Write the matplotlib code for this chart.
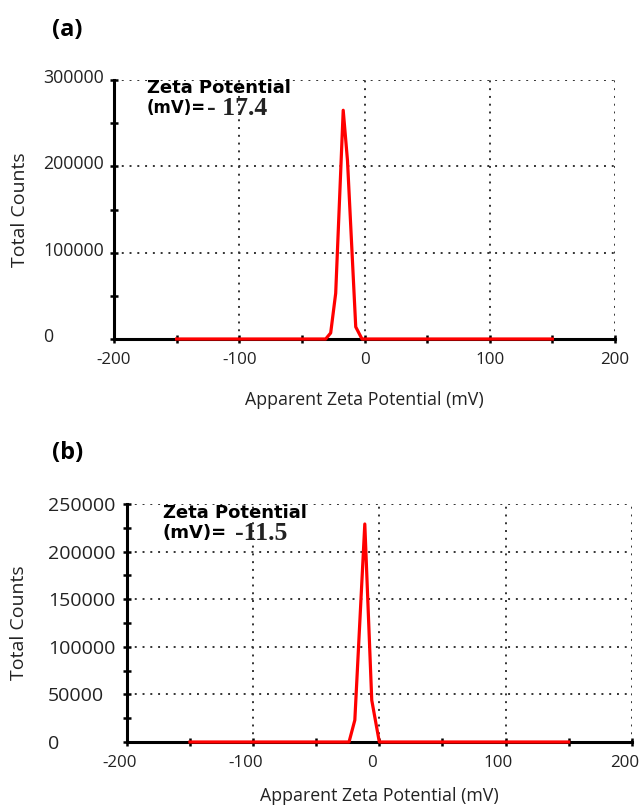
import matplotlib.pyplot as plt
from matplotlib.ticker import MultipleLocator
from matplotlib.transforms import ScaledTranslation

# Données
# (a)
x_a = [-150, -100, -50, -31, -27, -23, -17, -13.6, -7, -2, 0, 50, 100, 150]
y_a = [0, 0, 0, 0, 7000, 53000, 265000, 207000, 14000, 0, 0, 0, 0, 0]
zeta_a = "- 17.4"
# (b)
x_b = [-150, -100, -50, -24, -19.4, -11.5, -6, 0, 50, 100, 150]
y_b = [0, 0, 0, 0, 23000, 229000, 44000, 0, 0, 0, 0]
zeta_b = "-11.5"

xticks = [-200, -100, 0, 100, 200]
yticks_a = [0, 100000, 200000, 300000]
yticks_b = [0, 50000, 100000, 150000, 200000, 250000]

plt.rcParams['font.family'] = ['Open Sans', 'DejaVu Sans']
plt.rcParams['axes.unicode_minus'] = False

fig = plt.figure(figsize=(6.44, 8.06), dpi=100)
ax1 = fig.add_axes([0.177, 0.5794, 0.778, 0.3213])
ax2 = fig.add_axes([0.197, 0.0794, 0.784, 0.2953])


def shift(labels, dx, dy):
    for lbl in labels:
        lbl.set_transform(lbl.get_transform() +
                          ScaledTranslation(dx / 100, dy / 100, fig.dpi_scale_trans))


def style(ax, x, y, yticks, ymax, yminor, ysize, ypad, xlpad, ylx):
    ax.grid(True, color='#333333', linestyle=(0, (1, 3)), linewidth=1.4)
    ax.plot(x, y, color='red', linewidth=2.3, zorder=3, clip_on=False)
    ax.set_xlim(-200, 200)
    ax.set_ylim(0, ymax)
    ax.set_xticks(xticks)
    ax.set_yticks(yticks)
    ax.xaxis.set_minor_locator(MultipleLocator(50))
    ax.yaxis.set_minor_locator(MultipleLocator(yminor))
    for s in ['top', 'right']:
        ax.spines[s].set_visible(False)
    for s in ['left', 'bottom']:
        ax.spines[s].set_linewidth(2.2)
        ax.spines[s].set_zorder(2)
    ax.tick_params(which='both', direction='inout', length=6, width=1.8,
                   labelcolor='#222222')
    ax.tick_params(axis='x', pad=6, labelsize=12.2)
    ax.tick_params(axis='y', pad=ypad, labelsize=ysize)
    for lbl in ax.get_yticklabels():
        lbl.set_ha('left')
    ax.set_xlabel('Apparent Zeta Potential (mV)', fontsize=12.8,
                  labelpad=xlpad, color='#222222')
    ax.set_ylabel('Total Counts', fontsize=14, color='#222222')
    ax.yaxis.set_label_coords(ylx, 0.5)


style(ax1, x_a, y_a, yticks_a, 300000, 50000, 12.8, 48, 17, -0.170)
style(ax2, x_b, y_b, yticks_b, 250000, 25000, 14, 54, 12, -0.196)
shift(ax1.get_yticklabels(), 0, 4)
shift(ax2.get_xticklabels(), -7, 0)

# Annotations
for ax, tx, ty1, ty2, mvsize, nx, zeta in [
        (ax1, 0.066, 0.969, 0.892, 12, 0.186, zeta_a),
        (ax2, 0.071, 0.962, 0.878, 13, 0.214, zeta_b)]:
    ax.text(tx, ty1, 'Zeta Potential', transform=ax.transAxes, fontsize=13,
            fontweight='bold', family=['DejaVu Sans'], va='center')
    ax.text(tx, ty2, '(mV)=', transform=ax.transAxes, fontsize=mvsize,
            fontweight='bold', family=['DejaVu Sans'], va='center')
    ax.text(nx, ty2, zeta, transform=ax.transAxes, fontsize=18.5,
            fontweight='bold', family=['Liberation Serif', 'DejaVu Serif'],
            va='center', color='#222222')

ax1.text(-0.124, 1.193, '(a)', transform=ax1.transAxes, fontsize=17,
         fontweight='bold', va='center')
ax2.text(-0.149, 1.214, '(b)', transform=ax2.transAxes, fontsize=17,
         fontweight='bold', va='center')

fig.savefig('out.png', dpi=100)
